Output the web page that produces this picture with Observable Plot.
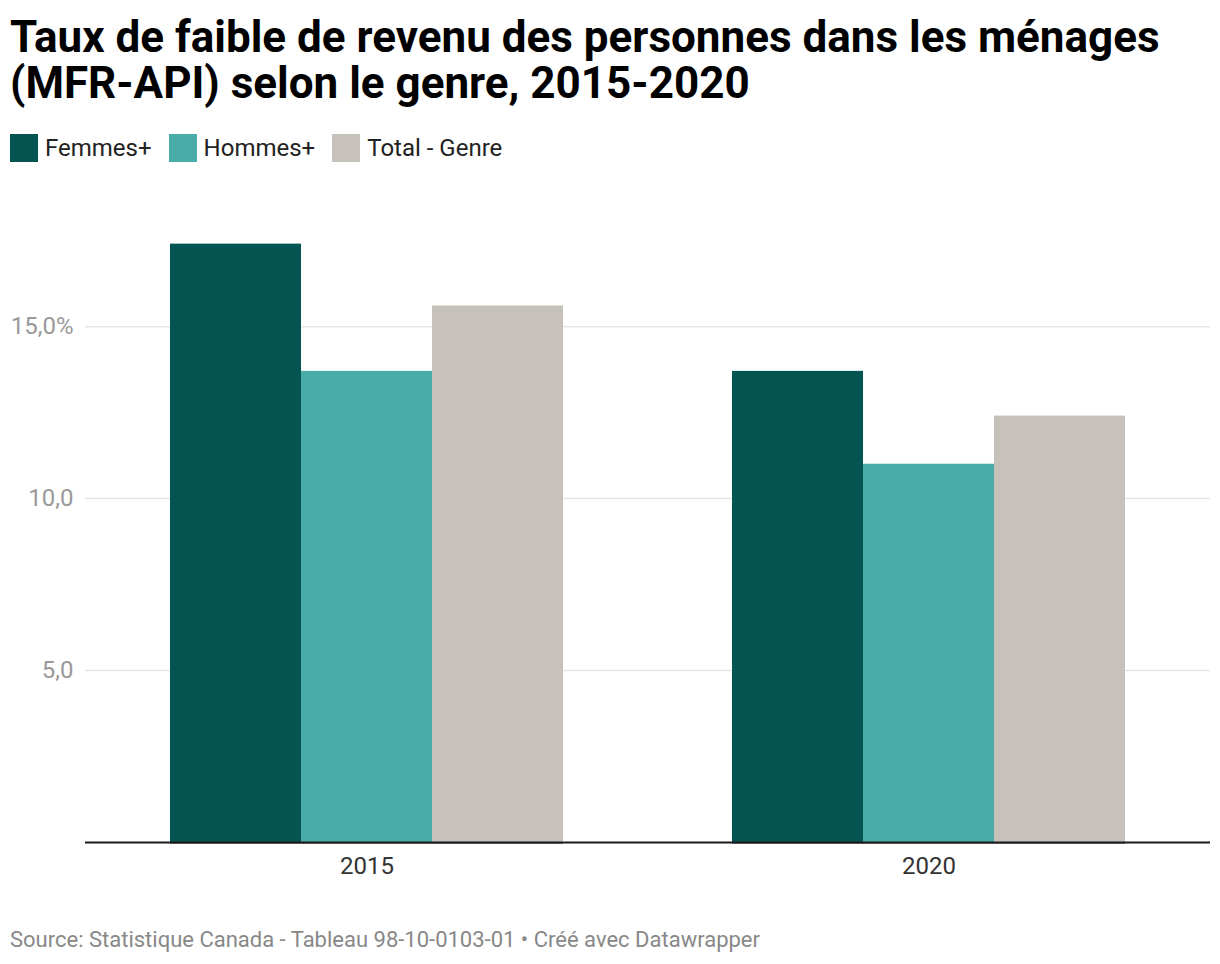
<!DOCTYPE html>
<html lang="fr">
<head>
<meta charset="utf-8">
<script src="https://cdn.jsdelivr.net/npm/d3@7"></script>
<script src="https://cdn.jsdelivr.net/npm/@observablehq/plot@0.6"></script>
<style>
  html, body { margin: 0; padding: 0; background: #fff; }
  body { width: 1220px; height: 964px; font-family: Roboto, sans-serif; overflow: hidden; }
  #title { position: absolute; left: 10px; top: 14px; font-size: 44px; font-weight: 700; color: #000; letter-spacing: 0; white-space: nowrap; }
  #title div { height: 46px; line-height: 46px; overflow: visible; }
  #legend { position: absolute; left: 10px; top: 134px; display: flex; align-items: center; font-size: 24px; color: #222; }
  .item { display: flex; align-items: center; margin-right: 17px; }
  .sw { width: 28px; height: 28px; margin-right: 7px; }
  #chart { position: absolute; left: 0; top: 190px; width: 1220px; height: 705px; }
  #chart svg { position: absolute; left: 0; top: 0; }
  #source { position: absolute; left: 10px; top: 927px; font-size: 22px; color: #888; line-height: 26px; white-space: nowrap; }
</style>
</head>
<body>
<div id="title"><div>Taux de faible de revenu des personnes dans les ménages</div><div>(MFR-API) selon le genre, 2015-2020</div></div>
<div id="legend"></div>
<div id="chart"></div>
<div id="source">Source: Statistique Canada - Tableau 98-10-0103-01 • Créé avec Datawrapper</div>
<script>
const years = ["2015", "2020"];
const series = ["Femmes+", "Hommes+", "Total - Genre"];
const femmes = [17.4, 13.7];
const hommes = [13.7, 11.0];
const total = [15.6, 12.4];
const colors = ["#045452", "#49aca9", "#c6c2bb"];
const yTicks = [5, 10, 15];
const yTickLabels = ["5,0", "10,0", "15,0%"];

const values = [femmes, hommes, total];
const data = [];
years.forEach((yr, i) => series.forEach((s, j) => data.push({year: yr, series: s, value: values[j][i]})));

// legend
const legend = document.getElementById("legend");
series.forEach((s, j) => {
  const it = document.createElement("div");
  it.className = "item";
  it.innerHTML = `<div class="sw" style="background:${colors[j]}"></div><span>${s}</span>`;
  legend.appendChild(it);
});

const W = 1220, H = 705, mt = 33, mb = 53, ml = 85, mr = 10;
const yDomain = [0, 18];

// background layer: gridlines + y labels + baseline
const back = Plot.plot({
  width: W, height: H,
  marginTop: mt, marginBottom: mb, marginLeft: ml, marginRight: mr,
  style: {fontFamily: "Roboto, sans-serif", fontSize: "24px", color: "#999", background: "transparent", overflow: "visible"},
  y: {domain: yDomain, ticks: yTicks, tickFormat: d => yTickLabels[yTicks.indexOf(d)], tickSize: 0, tickPadding: 12, label: null},
  marks: [
    Plot.ruleY(yTicks, {stroke: "#e5e5e5", strokeWidth: 1.5}),
    Plot.ruleY([0], {stroke: "#1a1a1a", strokeWidth: 2})
  ]
});

// bars layer
const front = Plot.plot({
  width: W, height: H,
  marginTop: mt, marginBottom: mb, marginLeft: ml, marginRight: mr,
  style: {fontFamily: "Roboto, sans-serif", fontSize: "24px", color: "#333", background: "transparent", overflow: "visible"},
  facet: {data, x: "year"},
  fx: {domain: years, paddingInner: 0.3, paddingOuter: 0.15, label: null, tickSize: 0, tickPadding: 14},
  x: {domain: series, padding: 0, axis: null},
  y: {domain: yDomain, axis: null},
  color: {domain: series, range: colors},
  marks: [
    Plot.barY(data, {x: "series", y: "value", fill: "series"}),
    Plot.ruleY([0], {stroke: "#1a1a1a", strokeWidth: 2})
  ]
});

const chart = document.getElementById("chart");
chart.appendChild(back);
chart.appendChild(front);
</script>
</body>
</html>
